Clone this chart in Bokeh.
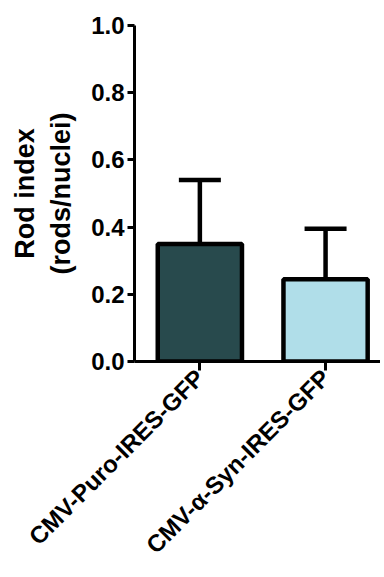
from bokeh.plotting import figure
from bokeh.models import ColumnDataSource, Whisker, TeeHead, FixedTicker, Range1d
from bokeh.embed import file_html
from bokeh.resources import INLINE

categories = ["CMV-Puro-IRES-GFP", "CMV-\u03b1-Syn-IRES-GFP"]
means = [0.35, 0.245]
sems = [0.19, 0.15]
colors = ["#284a4d", "#b0dee9"]
y_ticks = [0.0, 0.2, 0.4, 0.6, 0.8, 1.0]

xs = [i + 1 for i in range(len(categories))]
src = ColumnDataSource(dict(
    x=xs, top=means, upper=[m + s for m, s in zip(means, sems)], color=colors))

FONT = "Liberation Sans"

p = figure(width=380, height=577, output_backend="svg", toolbar_location=None,
           x_range=Range1d(0.48, 2.437), y_range=Range1d(0, 1.0),
           min_border_top=25, min_border_right=0, min_border_left=134,
           min_border_bottom=216)
p.outline_line_color = None
p.grid.visible = False
p.background_fill_color = "white"
p.border_fill_color = "white"

p.vbar(x="x", top="top", bottom=0, width=0.67, fill_color="color",
       line_color="black", line_width=4.5, source=src)

w = Whisker(base="x", lower="top", upper="upper", source=src,
            line_color="black", line_width=4.5,
            upper_head=TeeHead(size=42, line_width=4.5, line_color="black"),
            lower_head=None)
p.add_layout(w)

p.xaxis.ticker = FixedTicker(ticks=xs)
p.xaxis.major_label_overrides = {x: c for x, c in zip(xs, categories)}
p.xaxis.major_label_orientation = 0.785398
p.xaxis.minor_tick_line_color = None
p.xaxis.major_tick_out = 9
p.xaxis.major_tick_in = 0
p.xaxis.major_label_standoff = 3

p.yaxis.ticker = FixedTicker(ticks=y_ticks)
p.yaxis.formatter.use_scientific = False
p.yaxis.major_label_overrides = {t: f"{t:.1f}" for t in y_ticks}
p.yaxis.minor_tick_line_color = None
p.yaxis.major_tick_out = 7
p.yaxis.major_tick_in = 0
p.yaxis.major_label_standoff = 3
p.yaxis.axis_label = "Rod index\n(rods/nuclei)"
p.yaxis.axis_label_standoff = 12

for ax in (p.xaxis, p.yaxis):
    ax.axis_line_width = 3
    ax.axis_line_color = "black"
    ax.major_tick_line_width = 3
    ax.major_tick_line_color = "black"
    ax.major_label_text_font = FONT
    ax.major_label_text_font_style = "bold"
    ax.major_label_text_color = "black"
    ax.axis_label_text_font = FONT
    ax.axis_label_text_font_style = "bold"
    ax.axis_label_text_font_size = "27px"
    ax.axis_label_text_color = "black"

p.xaxis.major_label_text_font_size = "24px"
p.yaxis.major_label_text_font_size = "24px"

open("out.html", "w").write(file_html(p, INLINE))
